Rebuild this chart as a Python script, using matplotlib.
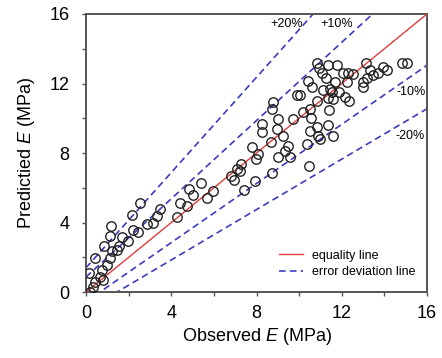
# plot.py - observed vs predicted E with error bands
import matplotlib
matplotlib.use("Agg")
import numpy as np
import matplotlib.pyplot as plt
from matplotlib.ticker import MultipleLocator

plt.rcParams['font.family'] = ['Liberation Sans', 'DejaVu Sans']
plt.rcParams['mathtext.fontset'] = 'custom'
plt.rcParams['mathtext.rm'] = 'Liberation Sans'
plt.rcParams['mathtext.it'] = 'Liberation Sans:italic'

observed = [
    0.19, 0.34, 0.42, 0.78, 0.66, 0.14, 0.74, 0.97, 0.42, 1.13,
    0.84, 1.20, 1.47, 1.56, 1.99, 1.67, 1.13, 1.16, 2.22, 2.45,
    2.85, 3.13, 2.14, 3.35, 3.47, 2.53, 4.26, 4.41, 4.75, 4.85,
    5.00, 5.38, 5.69, 5.97,
    6.79, 6.95, 7.10, 7.23, 7.26, 7.43, 7.93, 7.77, 7.98, 8.09,
    8.24, 8.24, 8.71, 8.67, 8.71, 8.79,
    9.02, 8.98, 9.02, 9.34, 9.49, 9.57, 9.26, 9.73, 9.89, 10.04,
    10.17, 10.35, 10.51, 10.51, 10.54, 10.82, 10.90, 10.98, 10.48, 10.43,
    10.59, 10.82, 10.95, 11.06, 11.26, 11.37, 11.76, 11.14, 11.45, 11.68,
    11.37, 10.85, 11.60, 11.42, 11.37, 11.60, 11.53, 11.89,
    12.04, 12.31, 12.51, 12.23, 12.15, 12.36, 13.14, 13.33, 13.45, 13.72,
    13.95, 14.11, 13.01, 13.17, 12.98, 14.81, 15.04,
]
predicted = [
    0.02, 0.27, 0.60, 0.70, 0.85, 1.12, 1.28, 1.57, 1.95, 1.95,
    2.63, 2.34, 2.43, 2.67, 2.92, 3.15, 3.25, 3.83, 3.55, 3.44,
    3.94, 3.98, 4.46, 4.37, 4.79, 5.14, 4.33, 5.12, 4.93, 5.91,
    5.57, 6.30, 5.43, 5.81,
    6.69, 6.45, 7.11, 6.98, 7.36, 5.87, 6.40, 8.33, 7.65, 7.94,
    9.20, 9.68, 6.87, 8.62, 10.55, 10.94,
    9.97, 9.39, 7.75, 8.13, 8.42, 7.75, 9.00, 9.97, 11.32, 11.36,
    10.36, 8.52, 9.29, 10.55, 10.01, 9.48, 8.97, 8.81, 7.26, 12.14,
    11.81, 13.16, 12.87, 12.58, 12.33, 13.06, 13.06, 11.61, 11.71, 12.10,
    11.16, 10.97, 11.13, 10.45, 9.62, 8.97, 11.52, 11.52,
    12.58, 12.58, 12.52, 12.10, 11.23, 10.97, 13.16, 12.77, 12.48, 12.58,
    12.97, 12.77, 12.10, 12.29, 11.81, 13.16, 13.16,
]

# Fehlerlinien: Steigung / Achsenabschnitt
band_names = ["+20%", "+10%", "-10%", "-20%"]
band_slope = [1.37, 1.125, 0.85, 0.725]
band_icpt = [1.40, 0.87, -0.55, -1.05]

fig = plt.figure(figsize=(4.42, 3.58), dpi=100)
ax = fig.add_axes([0.1946, 0.184, 0.7715, 0.777])

xs = np.array([0, 16])
ax.plot(xs, xs, color='#e33b3b', lw=1.0, label='equality line', zorder=3)
for i, (s, b) in enumerate(zip(band_slope, band_icpt)):
    ax.plot(xs, s * xs + b, color='#3b3bbf', lw=1.2, dashes=(4, 2.5),
            label='error deviation line' if i == 0 else None, zorder=2)

ax.plot(observed, predicted, 'o', mfc='none', mec='#222222', mew=1.0, ms=6.8, zorder=4)

# Beschriftung der Linien
ax.text(9.43, 15.42, band_names[0], fontsize=9, ha='center', va='center')
ax.text(11.78, 15.42, band_names[1], fontsize=9, ha='center', va='center')
ax.text(15.25, 11.5, band_names[2], fontsize=9, ha='center', va='center')
ax.text(15.2, 9.0, band_names[3], fontsize=9, ha='center', va='center')

ax.set_xlim(0, 16)
ax.set_ylim(0, 16)
for a in (ax.xaxis, ax.yaxis):
    a.set_major_locator(MultipleLocator(4))
    a.set_minor_locator(MultipleLocator(2))
ax.tick_params(which='both', direction='out', length=3, width=1, colors='#555555',
               labelcolor='black', labelsize=13, top=False, right=False)
ax.tick_params(axis='x', pad=6)
ax.tick_params(axis='y', pad=9)
for sp in ax.spines.values():
    sp.set_color('#555555')
    sp.set_linewidth(1.4)

ax.set_xlabel('Observed $E$ (MPa)', fontsize=13)
ax.set_ylabel('Predictied $E$ (MPa)', fontsize=13)
ax.xaxis.set_label_coords(0.5, -0.12)
ax.yaxis.set_label_coords(-0.145, 0.5)

ax.legend(loc='lower left', bbox_to_anchor=(0.566, 0.05), frameon=False, fontsize=9,
          borderpad=0, borderaxespad=0, handlelength=1.9, handletextpad=0.7,
          labelspacing=0.35)

plt.savefig('out.png', dpi=100)
plt.close()
